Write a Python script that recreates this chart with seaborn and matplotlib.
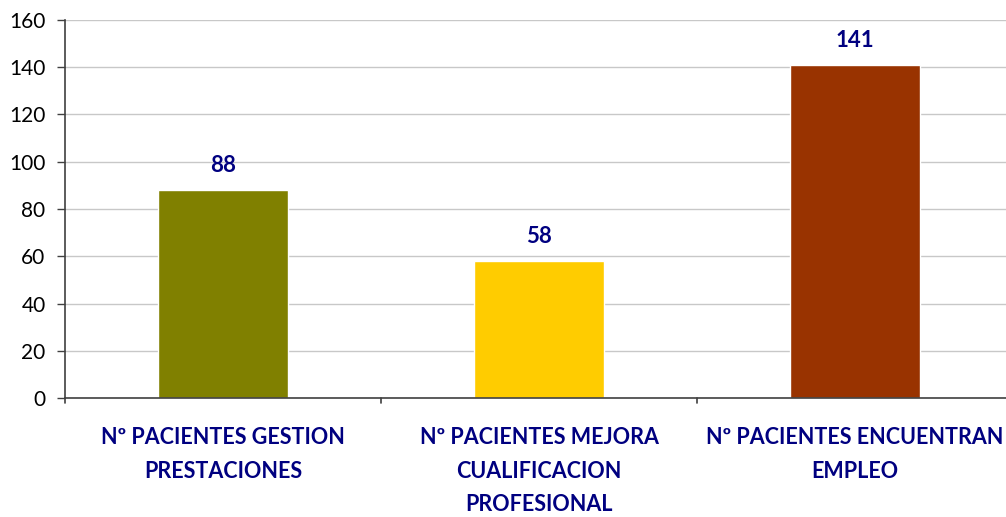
import matplotlib
matplotlib.use("Agg")
import matplotlib.pyplot as plt
import seaborn as sns
import pandas as pd

categories = ["Nº PACIENTES GESTION\nPRESTACIONES",
              "Nº PACIENTES MEJORA\nCUALIFICACION\nPROFESIONAL",
              "Nº PACIENTES ENCUENTRAN\nEMPLEO"]
values = [88, 58, 141]
colors = ["#808000", "#FFCC00", "#993300"]
yticks = [0, 20, 40, 60, 80, 100, 120, 140, 160]

sns.set_theme(style="white")
plt.rcParams['font.family'] = ['Lato', 'DejaVu Sans']

df = pd.DataFrame({"cat": categories, "val": values})

fig = plt.figure(figsize=(10.06, 5.17), dpi=100)
ax = fig.add_axes([65/1006, 119/517, 948/1006, 378/517])

sns.barplot(data=df, x="cat", y="val", hue="cat", palette=colors,
            width=0.41, ax=ax, legend=False, saturation=1)

ax.set_ylim(0, 160)
ax.set_xlim(-0.5, 2.5)
ax.set_yticks(yticks)
ax.set_yticklabels([str(t) for t in yticks], fontsize=15, color="black")
ax.yaxis.grid(True, color="#C8C8C8", linewidth=1)
ax.set_axisbelow(True)
for s in ["top", "right"]:
    ax.spines[s].set_visible(False)
for s in ["left", "bottom"]:
    ax.spines[s].set_color("#404040")
    ax.spines[s].set_linewidth(1.2)
ax.axhline(160, color="#808080", linewidth=1.2, zorder=0)

ax.set_xlabel("")
ax.set_ylabel("")
ax.set_xticks([0, 1, 2])
ax.set_xticklabels(categories, fontsize=15.5, fontweight="bold", color="#000080",
                   linespacing=1.74)
ax.tick_params(axis="x", length=0, pad=21)
ax.tick_params(axis="y", length=6, width=1, color="#404040", left=True, pad=8)
for b in [-0.5, 0.5, 1.5]:
    ax.plot([b, b], [0, -2.2], color="#404040", lw=1.2, clip_on=False)

for c in ax.containers:
    ax.bar_label(c, padding=10, fontsize=16, fontweight="bold", color="#000080")

fig.savefig("out.png", dpi=100)
